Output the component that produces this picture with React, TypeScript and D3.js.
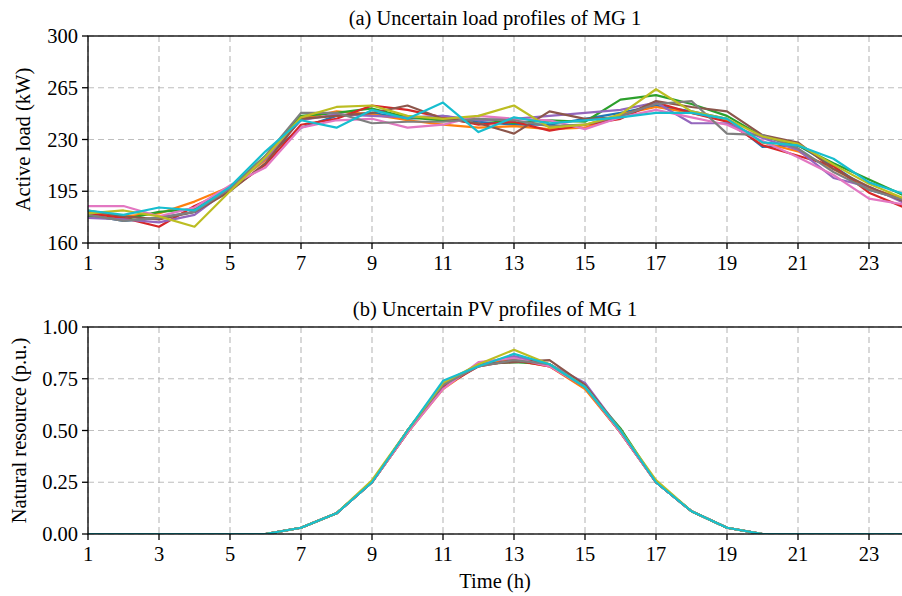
import React from "react";
import * as d3 from "d3";

const hours = d3.range(1, 25);
const xTicks = [1, 3, 5, 7, 9, 11, 13, 15, 17, 19, 21, 23];
const loadTicks = [160, 195, 230, 265, 300];
const pvTicks = [0, 0.25, 0.5, 0.75, 1.0];

const colors = ["#1f77b4", "#ff7f0e", "#2ca02c", "#d62728", "#9467bd", "#8c564b", "#e377c2", "#7f7f7f", "#bcbd22", "#17becf"];

const loadBlue = [179,175,177,181,196,218,238,246,248,244,246,242,240,240,244,248,253,249,244,225,226,212,196,189];
const loadOrange = [181,178,180,188,198,216,244,249,247,243,240,238,239,237,238,247,252,248,243,228,222,210,197,190];
const loadGreen = [178,176,181,183,197,219,246,248,251,245,243,244,241,243,242,257,260,254,246,232,226,214,203,192];
const loadRed = [180,177,171,185,196,213,240,244,253,250,245,240,242,236,240,244,255,248,242,226,219,212,194,184];
const loadPurple = [177,176,174,179,197,217,243,247,246,245,246,243,244,246,248,250,255,241,241,231,223,204,198,187];
const loadBrown = [182,178,176,181,195,214,244,246,248,253,244,241,234,249,244,245,256,252,249,233,228,210,198,188];
const loadPink = [185,185,178,184,199,211,238,243,244,238,240,246,244,243,237,245,250,245,240,229,218,206,190,186];
const loadGray = [179,175,177,181,197,219,248,248,241,242,242,244,243,239,240,246,254,256,234,233,224,208,196,189];
const loadOlive = [180,182,178,171,195,218,245,252,253,246,244,246,253,238,240,247,264,249,244,232,227,213,200,190];
const loadCyan = [182,179,184,182,198,222,243,238,250,244,255,235,245,241,243,245,248,248,244,228,226,217,201,193];

const pvBlue = [0,0,0,0,0,0,0.03,0.10,0.25,0.49,0.72,0.81,0.85,0.82,0.71,0.49,0.25,0.11,0.03,0,0,0,0,0];
const pvOrange = [0,0,0,0,0,0,0.03,0.10,0.25,0.49,0.70,0.82,0.84,0.81,0.70,0.49,0.25,0.11,0.03,0,0,0,0,0];
const pvGreen = [0,0,0,0,0,0,0.03,0.10,0.25,0.50,0.72,0.82,0.83,0.82,0.71,0.51,0.25,0.11,0.03,0,0,0,0,0];
const pvRed = [0,0,0,0,0,0,0.03,0.10,0.25,0.49,0.71,0.81,0.84,0.81,0.71,0.49,0.25,0.11,0.03,0,0,0,0,0];
const pvPurple = [0,0,0,0,0,0,0.03,0.10,0.25,0.50,0.72,0.82,0.86,0.82,0.73,0.50,0.25,0.11,0.03,0,0,0,0,0];
const pvBrown = [0,0,0,0,0,0,0.03,0.10,0.25,0.50,0.72,0.82,0.83,0.84,0.72,0.50,0.25,0.11,0.03,0,0,0,0,0];
const pvPink = [0,0,0,0,0,0,0.03,0.10,0.25,0.49,0.70,0.83,0.85,0.81,0.71,0.49,0.25,0.11,0.03,0,0,0,0,0];
const pvGray = [0,0,0,0,0,0,0.03,0.10,0.25,0.50,0.72,0.81,0.84,0.82,0.71,0.50,0.25,0.11,0.03,0,0,0,0,0];
const pvOlive = [0,0,0,0,0,0,0.03,0.10,0.26,0.50,0.73,0.82,0.89,0.82,0.71,0.50,0.26,0.11,0.03,0,0,0,0,0];
const pvCyan = [0,0,0,0,0,0,0.03,0.10,0.25,0.50,0.74,0.81,0.87,0.82,0.71,0.50,0.25,0.11,0.03,0,0,0,0,0];

const loadSeries = [loadBlue, loadOrange, loadGreen, loadRed, loadPurple, loadBrown, loadPink, loadGray, loadOlive, loadCyan];
const pvSeries = [pvBlue, pvOrange, pvGreen, pvRed, pvPurple, pvBrown, pvPink, pvGray, pvOlive, pvCyan];

const W = 902;
const H = 596;
const left = 88;
const right = 904.5;
const font = "'Liberation Serif', 'Times New Roman', serif";
const fs = 20.5;

type PanelProps = {
  top: number;
  bottom: number;
  domain: [number, number];
  yTicks: number[];
  fmt: (v: number) => string;
  series: number[][];
  title: string;
  ylabel: string;
  ylabelX: number;
};

function Panel({ top, bottom, domain, yTicks, fmt, series, title, ylabel, ylabelX }: PanelProps) {
  const x = d3.scaleLinear().domain([1, 24]).range([left, right]);
  const y = d3.scaleLinear().domain(domain).range([bottom, top]);
  const line = d3.line<number>().x((_, i) => x(hours[i])).y((d) => y(d));
  const cx = (left + W) / 2;
  return (
    <g>
      <defs>
        <clipPath id={`clip${top}`}>
          <rect x={left} y={top} width={right - left} height={bottom - top} />
        </clipPath>
      </defs>
      {xTicks.map((t) => (
        <line key={"gx" + t} x1={x(t)} x2={x(t)} y1={top} y2={bottom} stroke="#b0b0b0" strokeWidth={1.2} strokeDasharray="6,4" opacity={0.8} />
      ))}
      {yTicks.map((t) => (
        <line key={"gy" + t} x1={left} x2={right} y1={y(t)} y2={y(t)} stroke="#b0b0b0" strokeWidth={1.2} strokeDasharray="6,4" opacity={0.8} />
      ))}
      <g clipPath={`url(#clip${top})`}>
        {series.map((s, i) => (
          <path key={i} d={line(s) || ""} fill="none" stroke={colors[i]} strokeWidth={2.2} strokeLinejoin="round" />
        ))}
      </g>
      <rect x={left} y={top} width={right - left} height={bottom - top} fill="none" stroke="black" strokeWidth={1.3} />
      {xTicks.map((t) => (
        <g key={"tx" + t}>
          <line x1={x(t)} x2={x(t)} y1={bottom} y2={bottom + 6} stroke="black" strokeWidth={1.3} />
          <text x={x(t)} y={bottom + 27} textAnchor="middle" fontSize={fs} fontFamily={font}>{t}</text>
        </g>
      ))}
      {yTicks.map((t) => (
        <g key={"ty" + t}>
          <line x1={left - 6} x2={left} y1={y(t)} y2={y(t)} stroke="black" strokeWidth={1.3} />
          <text x={left - 10} y={y(t) + 7} textAnchor="end" fontSize={fs} fontFamily={font}>{fmt(t)}</text>
        </g>
      ))}
      <text x={cx} y={top - 11} textAnchor="middle" fontSize={fs} fontFamily={font}>{title}</text>
      <text transform={`translate(${ylabelX},${(top + bottom) / 2}) rotate(-90)`} textAnchor="middle" fontSize={fs} fontFamily={font}>{ylabel}</text>
    </g>
  );
}

export default function App() {
  return (
    <svg width={W} height={H} style={{ position: "absolute", left: 0, top: 0, background: "white" }}>
      <rect width={W} height={H} fill="white" />
      <Panel top={36} bottom={243} domain={[160, 300]} yTicks={loadTicks} fmt={(v) => String(v)} series={loadSeries}
        title="(a) Uncertain load profiles of MG 1" ylabel="Active load (kW)" ylabelX={30} />
      <Panel top={327} bottom={534} domain={[0, 1]} yTicks={pvTicks} fmt={(v) => v.toFixed(2)} series={pvSeries}
        title="(b) Uncertain PV profiles of MG 1" ylabel="Natural resource (p.u.)" ylabelX={26} />
      <text x={(left + W) / 2} y={588} textAnchor="middle" fontSize={fs} fontFamily={font}>Time (h)</text>
    </svg>
  );
}
